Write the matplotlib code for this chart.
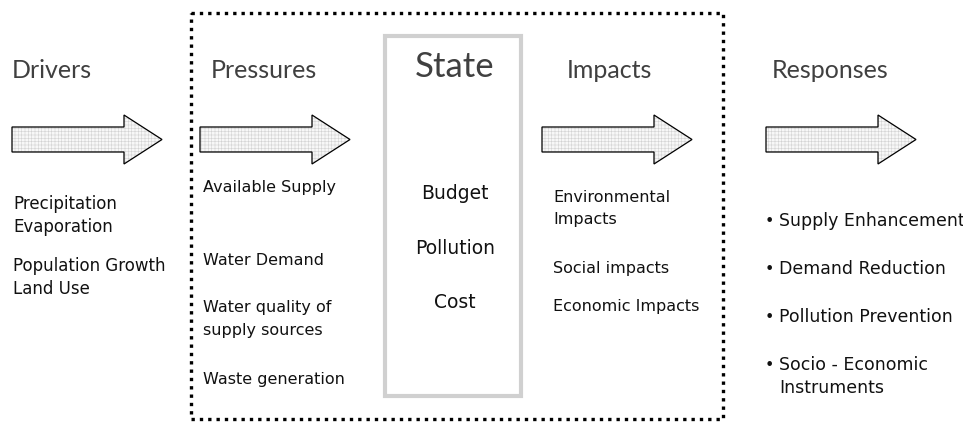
import matplotlib
matplotlib.use("Agg")
import matplotlib.pyplot as plt
from matplotlib.patches import Polygon, Rectangle

# DPSIR framework diagram
headers = ["Drivers", "Pressures", "State", "Impacts", "Responses"]

drivers_lines = ["Precipitation", "Evaporation", "Population Growth", "Land Use"]
pressures_lines = ["Available Supply", "Water Demand", "Water quality of",
                   "supply sources", "Waste generation"]
state_lines = ["Budget", "Pollution", "Cost"]
impacts_lines = ["Environmental", "Impacts", "Social impacts", "Economic Impacts"]
responses_items = ["Supply Enhancement", "Demand Reduction",
                   "Pollution Prevention", "Socio - Economic"]
responses_extra = "Instruments"

HEAD_FONT = ["Lato", "DejaVu Sans"]
BODY_FONT = ["DejaVu Sans"]
HEAD_COL = "#404040"
BODY_COL = "#111111"

plt.rcParams['hatch.linewidth'] = 0.4


def draw_arrow(ax, x0):
    pts = [(x0, 127), (x0 + 112, 127), (x0 + 112, 115), (x0 + 150, 139.5),
           (x0 + 112, 164), (x0 + 112, 152), (x0, 152)]
    ax.add_patch(Polygon(pts, closed=True, facecolor="#f7f7f7",
                         edgecolor="#d2d2d2", hatch="+++++", lw=0))
    ax.add_patch(Polygon(pts, closed=True, facecolor="none",
                         edgecolor="black", lw=0.9, joinstyle="miter"))


fig = plt.figure(figsize=(9.63, 4.26), dpi=100)
ax = fig.add_axes([0, 0, 1, 1])
ax.set_xlim(0, 963)
ax.set_ylim(426, 0)
ax.axis("off")

# dotted frame around pressures/state/impacts
ax.add_patch(Rectangle((191, 13), 532, 406, facecolor="none", edgecolor="black",
                       lw=2.4, linestyle=(0, (1, 1.5)), capstyle="butt"))

# state box
ax.add_patch(Rectangle((385, 36), 136, 360, facecolor="white",
                       edgecolor="#d0d0d0", lw=3))

# arrows
for x0 in [12, 200, 542, 766]:
    draw_arrow(ax, x0)

# headers
ax.text(12, 78, headers[0], fontsize=18, family=HEAD_FONT, color=HEAD_COL, va="baseline")
ax.text(211, 78, headers[1], fontsize=18, family=HEAD_FONT, color=HEAD_COL, va="baseline")
ax.text(455, 77, headers[2], fontsize=25, family=HEAD_FONT, color=HEAD_COL,
        va="baseline", ha="center")
ax.text(567, 78, headers[3], fontsize=18, family=HEAD_FONT, color=HEAD_COL, va="baseline")
ax.text(772, 78, headers[4], fontsize=18, family=HEAD_FONT, color=HEAD_COL, va="baseline")

# drivers
for txt, y in zip(drivers_lines, [209, 232, 271, 294]):
    ax.text(13, y, txt, fontsize=12, family=BODY_FONT, color=BODY_COL, va="baseline")

# pressures
for txt, y in zip(pressures_lines, [192, 265, 312, 335, 384]):
    ax.text(203, y, txt, fontsize=11.5, family=BODY_FONT, color=BODY_COL, va="baseline")

# state
for txt, y in zip(state_lines, [199, 254, 308]):
    ax.text(455, y, txt, fontsize=13.5, family=BODY_FONT, color=BODY_COL,
            va="baseline", ha="center")

# impacts
for txt, y in zip(impacts_lines, [202, 224, 273, 311]):
    ax.text(553, y, txt, fontsize=11.5, family=BODY_FONT, color=BODY_COL, va="baseline")

# responses
for txt, y in zip(responses_items, [226, 274, 322, 370]):
    ax.text(765, y, "\u2022", fontsize=11.5, family=BODY_FONT, color=BODY_COL, va="baseline")
    ax.text(779, y, txt, fontsize=12.5, family=BODY_FONT, color=BODY_COL, va="baseline")
ax.text(779, 393, responses_extra, fontsize=12.5, family=BODY_FONT, color=BODY_COL,
        va="baseline")

fig.savefig("out.png", dpi=100)
